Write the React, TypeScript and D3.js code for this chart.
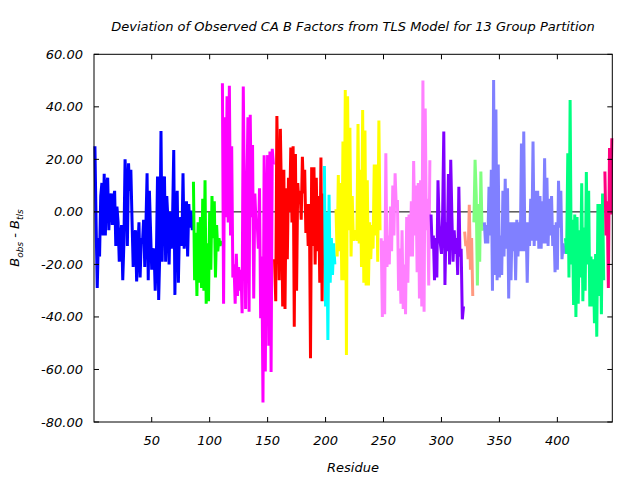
import React from 'react';
import * as d3 from 'd3';

// ---- data (B_obs - B_tls per residue, grouped by TLS partition) ----
const blueGroup = [25, -4, -29, -10, -17, 6, 11, -9, 14.5, -9, 10, 13, -7, 5, 7, -5, 5, 8, -13, 2, -4, -19, -10, -5, -26, -12, 20, 9, -13, 18.5, 8, 16, -3, -21, -10, -7, -26.5, -14, -4, -25, -10, -12, -3, -21, -5, 14.7, -26, 8, -7, -22, -15, -14, -30, -18, 13.5, -33.5, -15, 30.8, -19, 10, 13.5, -19, 6, -3, -20, 0, -14, -2, 23.6, -31.6, 0, 8, -27, -5, -2, -13, 14.7, -14, -8, 4, -17, 3, -6, 0.5, -7];
const greenGroup = [11.5, -26, -8, -32, -4, -27, -2, -29, 5, -30, 12, -35, -12, -34, 0, -22, 6, -10, 4, -25, -5, -15, -10, -13, -11];
const magentaGroup = [49, -35, 36, -2, 44, -4, 48, -9, 25, -25, -20, -35, -16, -32, -21, -30, -22, -38.6, 47.7, 4.5, -37, 4, 36, -38, 37, -2, 25.5, -33, 7, -4, -4, -14, 9, -40.5, -17, -72.6, 21.6, -60.8, 0, 21.6, -51, 23, -61, 24, 18];
const redGroup = [-18, -34, 36.5, 8, -26, 31.6, 4, -36, 16, -37, 9, -18, 13, 0, 24.5, -4, 25, -43.7, 22, -30, 11, 3, 8, -3, 21, 7, 16, -8, 3, -13, 3, -55.7, 17, -13, 17, -20, 13, -15, 6, -27, 20.7, -34, 7];
const cyanGroup = [17.5, -36, 0, -48.8, 6.5, -27, -10, -24, -12, -20];
const yellowGroup = [1, -17, 14, -15, 11, -26, 26.8, -26, 46.4, -54.5, 44, -7, 32, -17, 6, -11, -9, -7, -11, 33.5, -12, 16, -21, 38.8, -27, 31, -28, 12, -28, -4, -18, -5, -14, 18, -9, 18, -19, 34.8, -7];
const pinkGroup = [-10, -40, -11, -39, 22.3, -21, -9, -20, 2, -15, 10, -9, 14.7, 2, 4.5, -30, -14, -35, -7, -37, -20, -39, -2, -27, -1, -17, 4, -17, 19.4, -9, 10, -23, 11, -33, 12, -36, 50, -38, 39.4, -7, 5, -28, 19.7];
const purpleGroup = [-1, -14, -9, -26, -10, -25, 12, -5, -12, -16, -1, 30.6, -27.8, -4, -15, 14.4, -20, 19.8, -2, -19, -7, -16, -10, -24, 9.6, -17, -14, -40.9, -36];
const salmonGroup = [-7.5, -13, -11, -18, 2.7, -22, -10, -32];
const lightGreenGroup = [-4, 19.8, 6, -28, 3, -19, 15.4, -7, -6];
const slateGroup = [-4, -12, -5, -12, 9.6, -9, 16, -30, 50.2, -24, 39, -26, 18, -25, -9, -24, 8, -17, 12.6, -14, 9, -33, -4, -26, -4, -15, -4, -26, -3, -17, -4, -15, 26, -15, 30.6, -15, -4, -27, -4, -13, 5, -11, 26.8, -13, 8, -11, 8, -14, 6, -14, 4, -12, 20.4, -12, 13, -13, 5, -9, 6, -13, -5, -23, -4, -22, 11.8, -6, 8, -18, -12, -16];
const springGroup = [-10, -16, 22.3, -25, 42.6, -20, -3, -35.4, -1, -40, -2, -35, -7, -25, 10.9, -34, -6, -30, 15.2, -20, 8, -36, -17, -36, -18, -42.4, -16, -47.5, 3, -32, 3, -39, 7, -26];
const deepPinkGroup = [15.4, -9, 4, -29, 24.3, -1, 28];

const groupValues = [blueGroup, greenGroup, magentaGroup, redGroup, cyanGroup, yellowGroup, pinkGroup, purpleGroup, salmonGroup, lightGreenGroup, slateGroup, springGroup, deepPinkGroup];
const groupColors = ['#0000ff', '#00ff00', '#ff00ff', '#ff0000', '#00ffff', '#ffff00', '#ff80ff', '#8000ff', '#ff9980', '#80ff80', '#8080ff', '#00ff80', '#ff0080'];

const yTicks = [-80, -60, -40, -20, 0, 20, 40, 60];
const xTicks = [50, 100, 150, 200, 250, 300, 350, 400];

const titleText = 'Deviation of Observed CA B Factors from TLS Model for 13 Group Partition';
const xLabel = 'Residue';

export default function App() {
  const W = 640, H = 480;
  const left = 94, right = 612.3, top = 54.3, bottom = 422;
  const x = d3.scaleLinear().domain([0.2, 447.4]).range([left, right]);
  const y = d3.scaleLinear().domain([-80, 60]).range([bottom, top]);

  let start = 1;
  const series = groupValues.map((vals, gi) => {
    const pts = vals.map((v, i) => [start + i, v] as [number, number]);
    start += vals.length;
    return { pts, color: groupColors[gi] };
  });
  const line = d3.line<[number, number]>().x(d => x(d[0])).y(d => y(d[1]));

  const font = "'DejaVu Sans', sans-serif";
  const tl = 5;

  return (
    <svg width={W} height={H} style={{ position: 'absolute', left: 0, top: 0, background: '#fff' }}>
      <rect x={0} y={0} width={W} height={H} fill="#fff" />
      <line x1={left} x2={right} y1={y(0)} y2={y(0)} stroke="#000" strokeWidth={1} />
      {series.map((s, i) => (
        <path key={i} d={line(s.pts) || ''} fill="none" stroke={s.color} strokeWidth={3}
          strokeLinejoin="bevel" strokeLinecap="butt" />
      ))}
      <rect x={left} y={top} width={right - left} height={bottom - top} fill="none" stroke="#000" strokeWidth={1} />
      {yTicks.map(t => (
        <g key={'y' + t}>
          <line x1={left} x2={left + tl} y1={y(t)} y2={y(t)} stroke="#000" />
          <line x1={right} x2={right - tl} y1={y(t)} y2={y(t)} stroke="#000" />
          <text x={83} y={y(t) + 4.5} textAnchor="end" fontFamily={font} fontStyle="italic" fontSize={13} fill="#000">{t.toFixed(2)}</text>
        </g>
      ))}
      {xTicks.map(t => (
        <g key={'x' + t}>
          <line x1={x(t)} x2={x(t)} y1={bottom} y2={bottom - tl} stroke="#000" />
          <line x1={x(t)} x2={x(t)} y1={top} y2={top + tl} stroke="#000" />
          <text x={x(t)} y={445} textAnchor="middle" fontFamily={font} fontStyle="italic" fontSize={13} fill="#000">{t}</text>
        </g>
      ))}
      <text x={353} y={31} textAnchor="middle" fontFamily={font} fontStyle="italic" fontSize={13} fill="#000">{titleText}</text>
      <text x={353} y={472} textAnchor="middle" fontFamily={font} fontStyle="italic" fontSize={13} fill="#000">{xLabel}</text>
      <text transform="translate(19,238) rotate(-90)" textAnchor="middle" fontFamily={font} fontStyle="italic" fontSize={13} fill="#000">
        B<tspan fontSize={9} dy={4}>obs</tspan><tspan dy={-4}> - B</tspan><tspan fontSize={9} dy={4}>tls</tspan>
      </text>
    </svg>
  );
}
